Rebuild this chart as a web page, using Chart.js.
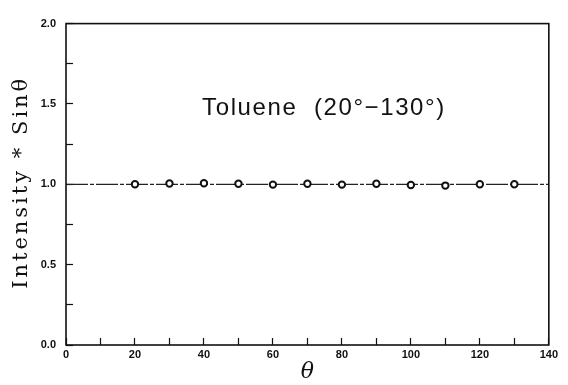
<!DOCTYPE html>
<html>
<head>
<meta charset="utf-8">
<script src="https://cdn.jsdelivr.net/npm/chart.js@4.4.1/dist/chart.umd.min.js"></script>
<style>
  html, body { margin: 0; padding: 0; background: #fff; }
  #wrap { width: 568px; height: 385px; position: relative; }
</style>
</head>
<body>
<div id="wrap"><canvas id="c"></canvas></div>
<script>
// measured points (theta in degrees, intensity * sin theta)
const theta = [20, 30, 40, 50, 60, 70, 80, 90, 100, 110, 120, 130];
const intensity = [1.000, 1.005, 1.007, 1.003, 0.998, 1.003, 0.998, 1.003, 0.996, 0.992, 1.000, 1.000];
// reference line y = 1
const refX = [0, 140];
const refY = [1, 1];
const note = 'Toluene  (20°\u2212130°)';
const yTitle = 'Intensity * Sinθ';

// axis frame, y title (spaced out like the original) and the annotation
const frame = {
  id: 'frame',
  afterDraw(chart) {
    const { ctx, chartArea: a, scales } = chart;
    ctx.save();
    ctx.strokeStyle = '#111';
    ctx.lineWidth = 1.6;
    ctx.strokeRect(a.left, a.top, a.right - a.left, a.bottom - a.top);
    ctx.fillStyle = '#111';
    ctx.textAlign = 'center';
    ctx.textBaseline = 'middle';

    ctx.font = '24px "Liberation Sans", Arial, sans-serif';
    ctx.letterSpacing = '1.6px';
    ctx.fillText(note, scales.x.getPixelForValue(74.8), scales.y.getPixelForValue(1.47));

    ctx.font = '21px "DejaVu Serif", serif';
    ctx.letterSpacing = '3px';
    ctx.translate(22, (a.top + a.bottom) / 2 - 2);
    ctx.rotate(-Math.PI / 2);
    ctx.fillText(yTitle, 0, 0);
    ctx.restore();
  }
};

const tickFont = { family: '"Liberation Sans", Arial, sans-serif', size: 11, weight: 'bold' };

new Chart(document.getElementById('c'), {
  type: 'scatter',
  data: {
    datasets: [
      {
        type: 'line',
        data: refX.map((x, i) => ({ x, y: refY[i] })),
        borderColor: '#222',
        borderWidth: 1.3,
        borderDash: [22, 2, 4, 2],
        pointRadius: 0,
        order: 2
      },
      {
        data: theta.map((t, i) => ({ x: t, y: intensity[i] })),
        pointRadius: 3.2,
        pointBorderWidth: 2,
        pointBorderColor: '#111',
        pointBackgroundColor: '#fff',
        order: 1
      }
    ]
  },
  options: {
    responsive: true,
    maintainAspectRatio: false,
    animation: false,
    layout: { padding: { top: 20, right: 15 } },
    plugins: { legend: { display: false }, tooltip: { enabled: false } },
    scales: {
      x: {
        type: 'linear', min: 0, max: 140,
        border: { display: false },
        grid: { drawOnChartArea: false, tickLength: -7, color: '#111', tickWidth: 1.2 },
        ticks: {
          stepSize: 10, padding: 10, color: '#111', font: tickFont, maxRotation: 0,
          callback: v => (v % 20 === 0 ? v : '')
        },
        title: {
          display: true, text: 'θ', color: '#111',
          font: { family: '"DejaVu Serif", serif', size: 22, style: 'italic' },
          padding: { top: 0, bottom: 0 }
        },
        afterFit: s => { s.height = 40; }
      },
      y: {
        min: 0, max: 2,
        border: { display: false },
        grid: { drawOnChartArea: false, tickLength: -7, color: '#111', tickWidth: 1.2 },
        ticks: {
          stepSize: 0.25, padding: 17, color: '#111', font: tickFont,
          callback: v => (Math.abs(v * 2 - Math.round(v * 2)) < 1e-9 ? v.toFixed(1) : '')
        },
        afterFit: s => { s.width = 66; }
      }
    }
  },
  plugins: [frame]
});
</script>
</body>
</html>
